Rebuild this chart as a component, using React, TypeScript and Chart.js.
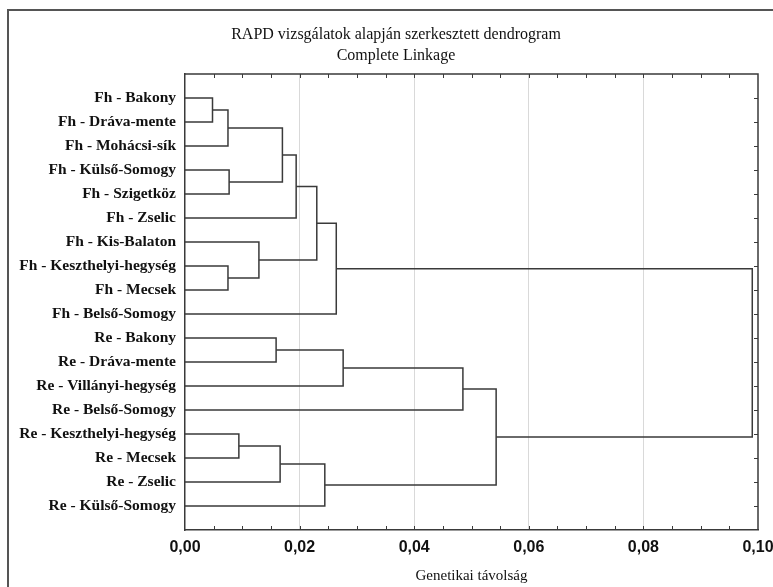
import React, { useEffect, useRef } from 'react';
import { Chart, registerables } from 'chart.js';

Chart.register(...registerables);

const titleLines = ['RAPD vizsgálatok alapján szerkesztett dendrogram', 'Complete Linkage'];
const axisTitle = 'Genetikai távolság';

const leafLabels = [
  'Fh - Bakony',
  'Fh - Dráva-mente',
  'Fh - Mohácsi-sík',
  'Fh - Külső-Somogy',
  'Fh - Szigetköz',
  'Fh - Zselic',
  'Fh - Kis-Balaton',
  'Fh - Keszthelyi-hegység',
  'Fh - Mecsek',
  'Fh - Belső-Somogy',
  'Re - Bakony',
  'Re - Dráva-mente',
  'Re - Villányi-hegység',
  'Re - Belső-Somogy',
  'Re - Keszthelyi-hegység',
  'Re - Mecsek',
  'Re - Zselic',
  'Re - Külső-Somogy',
];

// Merge steps: node ids 0..17 are leaves, merge k creates node 18 + k
const mergeLeft = [0, 18, 3, 19, 21, 7, 6, 22, 25, 10, 27, 28, 14, 30, 31, 29, 26];
const mergeRight = [1, 2, 4, 20, 5, 8, 23, 24, 9, 11, 12, 13, 15, 16, 17, 32, 33];
const mergeHeight = [
  0.0048, 0.0075, 0.0077, 0.017, 0.0194, 0.0075, 0.0129, 0.023, 0.0264,
  0.0159, 0.0276, 0.0485, 0.0094, 0.0166, 0.0244, 0.0543, 0.099,
];

const xTickStep = 0.02;
const xMinorStep = 0.005;
const xMin = 0;
const xMax = 0.1;

const LINE = '#3a3a3a';
const SERIF = '"Liberation Serif", "Times New Roman", serif';
const SANS = '"Liberation Sans", Arial, sans-serif';

function buildDatasets() {
  const nodeY: number[] = leafLabels.map((_, i) => i);
  const nodeH: number[] = leafLabels.map(() => 0);
  const datasets: any[] = [];
  mergeHeight.forEach((h, k) => {
    const a = mergeLeft[k];
    const b = mergeRight[k];
    const ya = nodeY[a];
    const yb = nodeY[b];
    nodeY.push((ya + yb) / 2);
    nodeH.push(h);
    datasets.push({
      data: [
        { x: nodeH[a], y: ya },
        { x: h, y: ya },
        { x: h, y: yb },
        { x: nodeH[b], y: yb },
      ],
      showLine: true,
      borderColor: LINE,
      borderWidth: 1.5,
      pointRadius: 0,
      fill: false,
      tension: 0,
    });
  });
  return datasets;
}

const decorPlugin = {
  id: 'decor',
  afterDraw(chart: any) {
    const ctx = chart.ctx;
    const { left, right, top, bottom } = chart.chartArea;
    const xs = chart.scales.x;
    const ys = chart.scales.y;
    ctx.save();
    // outer frame
    ctx.strokeStyle = '#555';
    ctx.lineWidth = 2;
    ctx.beginPath();
    ctx.moveTo(8, chart.height + 2);
    ctx.lineTo(8, 10);
    ctx.lineTo(chart.width + 2, 10);
    ctx.stroke();

    // plot box top/right
    ctx.strokeStyle = LINE;
    ctx.lineWidth = 1.5;
    ctx.beginPath();
    ctx.moveTo(left, top);
    ctx.lineTo(right, top);
    ctx.lineTo(right, bottom);
    ctx.stroke();

    // inward ticks
    ctx.lineWidth = 1;
    ctx.beginPath();
    const n = Math.round((xMax - xMin) / xMinorStep);
    for (let i = 1; i < n; i++) {
      const px = Math.round(xs.getPixelForValue(xMin + i * xMinorStep)) + 0.5;
      ctx.moveTo(px, top);
      ctx.lineTo(px, top + 4);
      ctx.moveTo(px, bottom);
      ctx.lineTo(px, bottom - 4);
    }
    leafLabels.forEach((_, i) => {
      const py = Math.round(ys.getPixelForValue(i)) + 0.5;
      ctx.moveTo(right, py);
      ctx.lineTo(right - 4, py);
    });
    ctx.stroke();

    // titles
    ctx.fillStyle = '#111';
    ctx.font = `16px ${SERIF}`;
    ctx.textAlign = 'center';
    ctx.textBaseline = 'alphabetic';
    ctx.fillText(titleLines[0], 396, 38.5);
    ctx.fillText(titleLines[1], 396, 59.5);
    ctx.restore();
  },
};

export default function App() {
  const ref = useRef<HTMLCanvasElement | null>(null);
  useEffect(() => {
    if (!ref.current) return;
    const chart = new Chart(ref.current, {
      type: 'scatter',
      data: { datasets: buildDatasets() },
      options: {
        animation: false,
        responsive: true,
        maintainAspectRatio: false,
        layout: { padding: { left: 0, top: 74, right: 15, bottom: 0 } },
        plugins: {
          legend: { display: false },
          title: { display: false },
          tooltip: { enabled: false },
        },
        scales: {
          x: {
            type: 'linear',
            position: 'bottom',
            min: xMin,
            max: xMax,
            afterFit: (s: any) => {
              s.height = 57;
              s.paddingLeft = 0;
              s.paddingRight = 0;
            },
            afterBuildTicks: (s: any) => {
              const t = [];
              for (let i = 0; i <= Math.round((xMax - xMin) / xTickStep); i++) t.push({ value: xMin + i * xTickStep });
              s.ticks = t;
            },
            ticks: {
              padding: 8,
              color: '#111',
              font: { family: SANS, size: 16, weight: 'bold' },
              callback: (v: any) => Number(v).toFixed(2).replace('.', ','),
              maxRotation: 0,
            },
            grid: {
              drawTicks: false,
              color: (c: any) => {
                const v = c.tick ? c.tick.value : 0;
                return v <= xMin + 1e-9 || v >= xMax - 1e-9 ? 'rgba(0,0,0,0)' : '#d9d9d9';
              },
              lineWidth: 1,
            },
            border: { display: true, color: LINE, width: 1.5 },
            title: {
              display: true,
              text: axisTitle,
              color: '#111',
              font: { family: SERIF, size: 15 },
              padding: { top: 0, bottom: 2 },
            },
          },
          y: {
            type: 'linear',
            reverse: true,
            min: -1,
            max: leafLabels.length,
            afterFit: (s: any) => {
              s.width = 185;
              s.paddingTop = 0;
              s.paddingBottom = 0;
            },
            afterBuildTicks: (s: any) => {
              s.ticks = leafLabels.map((_, i) => ({ value: i }));
            },
            ticks: {
              padding: 9,
              color: '#111',
              font: { family: SERIF, size: 15.5, weight: 'bold' },
              callback: (v: any) => leafLabels[Math.round(Number(v))] ?? '',
              autoSkip: false,
            },
            grid: { display: false, drawTicks: false },
            border: { display: true, color: LINE, width: 1.5 },
          },
        },
      },
      plugins: [decorPlugin],
    });
    return () => chart.destroy();
  }, []);
  return (
    <div style={{ position: 'absolute', left: 0, top: 0, width: 773, height: 587, background: '#fff' }}>
      <canvas ref={ref} />
    </div>
  );
}
